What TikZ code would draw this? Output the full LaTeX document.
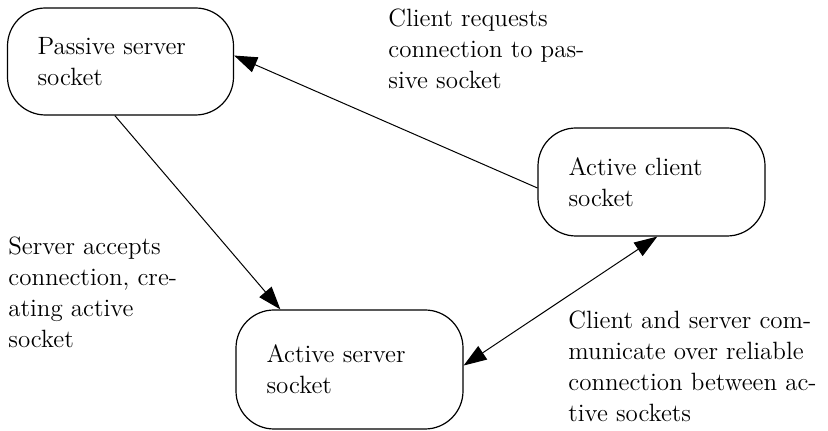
\documentclass[tikz,border=0pt]{standalone}
\usetikzlibrary{arrows.meta}
\begin{document}
\begin{tikzpicture}[x=0.5pt,y=-0.5pt]
\tikzset{>={Triangle[length=11.5pt,width=8pt]},
  sock/.style={draw,line width=0.6pt,rounded corners=19pt,
    minimum width=113.5pt,minimum height=54pt,align=left,
    text width=83pt,inner xsep=15pt,
    font=\fontsize{12.5}{15.5}\selectfont},
  note/.style={anchor=base west,align=left,inner sep=0pt,
    font=\fontsize{12.5}{15.5}\selectfont},
  link/.style={line width=0.5pt}}
\useasboundingbox (0,0) rectangle (828,431);
\node[sock,minimum width=112.5pt,minimum height=53.5pt] (passive) at (120.5,61.5) {Passive server\\socket};
\node[sock] (client) at (651.5,182) {Active client\\socket};
\node[sock,minimum height=59.5pt] (server) at (349.5,369.5) {Active server\\socket};
\node[note] (request) at (388,89) {Client requests\\connection to pas-\\sive socket};
\node[note] (accept) at (8,348) {Server accepts\\connection, cre-\\ating active\\socket};
\node[note] (talk) at (568,422) {Client and server com-\\municate over reliable\\connection between ac-\\tive sockets};
\draw[link,->] (passive.-96.9) -- (server.139.4);
\draw[link,->] (client.183.5) -- (passive.3.3);
\draw[link,<->] (server.2.3) -- (client.-84);
\end{tikzpicture}
\end{document}
